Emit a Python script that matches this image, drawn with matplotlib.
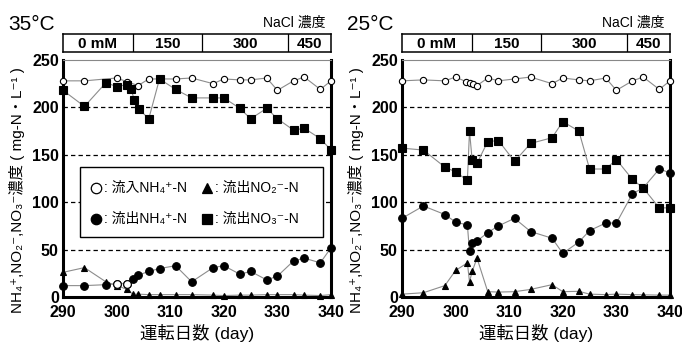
import matplotlib
matplotlib.use("Agg")
import matplotlib.pyplot as plt
from matplotlib.patches import Rectangle

plt.rcParams['font.family'] = ['Liberation Sans', 'DejaVu Sans', 'Noto Sans CJK JP']

# --- 35°C ---
dias_in_35 = [290, 294, 300, 302, 304, 306, 308, 311, 314, 318, 320, 323, 325, 328, 330, 333, 335, 338, 340]
nh4_in_35 = [228, 228, 231, 227, 223, 230, 230, 230, 231, 225, 230, 229, 229, 231, 218, 228, 232, 219, 228]

dias_out_35 = [290, 294, 298, 300, 302, 303, 304, 306, 308, 311, 314, 318, 320, 323, 325, 328, 330, 333, 335, 338, 340]
nh4_out_35 = [12, 12, 13, 14, 14, 19, 23, 27, 30, 33, 16, 31, 33, 24, 27, 18, 22, 38, 41, 36, 52]
no2_out_35 = [26, 31, 16, 12, 8, 3, 3, 2.5, 2.5, 2.5, 2.5, 2, 1.5, 2, 2, 2.5, 2.5, 2.5, 2, 1.5, 2.5]
anillos_35 = [3, 4]  # puntos que se ven huecos

dias_no3_35 = [290, 294, 298, 300, 302, 302.7, 303.3, 304.2, 306, 308, 311, 314, 318, 320, 323, 325, 328, 330, 333, 335, 338, 340]
no3_out_35 = [218, 201, 226, 222, 224, 219, 208, 198, 188, 230, 219, 210, 210, 210, 199, 188, 199, 188, 176, 178, 167, 155]

# --- 25°C ---
dias_in_25 = [290, 294, 298, 300, 302, 302.6, 303.2, 304, 306, 308, 311, 314, 318, 320, 323, 325, 328, 330, 333, 335, 338, 340]
nh4_in_25 = [228, 229, 228, 232, 227, 226, 225, 223, 231, 228, 230, 232, 225, 231, 229, 228, 231, 218, 228, 232, 219, 228]

dias_out_25 = [290, 294, 298, 300, 302.2, 302.6, 303.1, 304, 306, 308, 311, 314, 318, 320, 323, 325, 328, 330, 333, 335, 338, 340]
nh4_out_25 = [83, 96, 87, 79, 76, 48, 57, 59, 68, 75, 83, 69, 62, 46, 58, 70, 78, 78, 109, 115, 135, 131]
no2_out_25 = [3, 4.5, 12, 28, 36, 16, 27, 41, 5.6, 5.2, 5.6, 8, 13, 5.6, 6, 3, 2.5, 3, 2.5, 2.3, 2, 2]
no3_out_25 = [157, 155, 137, 132, 123, 175, 144, 141, 164, 165, 143, 162, 168, 185, 175, 135, 135, 145, 124, 115, 94, 94]

# NaCl
nacl_limites = [290, 303, 316, 332, 340]
nacl_labels = ['0 mM', '150', '300', '450']

ylabel = 'NH₄⁺,NO₂⁻,NO₃⁻濃度 ( mg-N・L⁻¹ )'

fig = plt.figure(figsize=(6.82, 3.42), dpi=100)


def serie(ax, x, y, marker, ms, mfc):
    ax.plot(x, y, color='#8c8c8c', lw=0.8, marker=marker, ms=ms, mfc=mfc,
            mec='black', mew=0.8, clip_on=False, zorder=3)


def leyenda(ax):
    ax.add_patch(Rectangle((0.063, 0.253), 0.907, 0.296, transform=ax.transAxes,
                           fc='white', ec='black', lw=1.0, zorder=5))
    items = [(0.123, 0.46, 'o', 'white', ': 流入NH₄⁺-N'),
             (0.537, 0.46, '^', 'black', ': 流出NO₂⁻-N'),
             (0.123, 0.329, 'o', 'black', ': 流出NH₄⁺-N'),
             (0.537, 0.329, 's', 'black', ': 流出NO₃⁻-N')]
    for x, y, m, fc, t in items:
        ax.plot([x], [y], transform=ax.transAxes, marker=m, ms=7.5, mfc=fc,
                mec='black', mew=0.9, ls='none', zorder=6, clip_on=False)
        ax.text(x + 0.03, y, t, transform=ax.transAxes, ha='left', va='center',
                fontsize=10, zorder=6)


def panel(left, titulo, datos, anillos=None, con_leyenda=False):
    ax = fig.add_axes([left, 0.1316, 0.393, 0.693])
    (d_in, v_in), (d_out, v_nh4, v_no2), (d_no3, v_no3) = datos
    serie(ax, d_in, v_in, 'o', 4.5, 'white')
    serie(ax, d_no3, v_no3, 's', 5.5, 'black')
    serie(ax, d_out, v_no2, '^', 4, 'black')
    serie(ax, d_out, v_nh4, 'o', 5.5, 'black')
    if anillos:
        ax.plot([d_out[i] for i in anillos], [v_nh4[i] for i in anillos], 'o',
                ms=5.5, mfc='white', mec='black', mew=0.8, zorder=4)

    ax.set_xlim(290, 340)
    ax.set_ylim(0, 250)
    ax.set_xticks(range(290, 341, 10))
    ax.set_yticks(range(0, 251, 50))
    for v in [50, 100, 150, 200]:
        ax.axhline(v, color='black', ls=(0, (3.5, 2.5)), lw=0.9, zorder=1)
    ax.tick_params(length=0, labelsize=11.5)
    ax.tick_params(axis='x', pad=6)
    ax.tick_params(axis='y', pad=3)
    for lab in ax.get_xticklabels() + ax.get_yticklabels():
        lab.set_fontweight('bold')
    for s in ['left', 'right', 'bottom']:
        ax.spines[s].set_linewidth(2.2)
    ax.spines['top'].set_color('#888888')
    ax.spines['top'].set_linewidth(0.8)
    ax.set_xlabel('運転日数 (day)', fontsize=12.5, labelpad=3)
    ax.set_ylabel(ylabel, fontsize=11)
    ax.yaxis.set_label_coords(-0.14, 0.45)

    # barra NaCl
    bx = fig.add_axes([left, 0.848, 0.393, 0.0526])
    bx.set_xlim(290, 340)
    bx.set_ylim(0, 1)
    bx.set_xticks([])
    bx.set_yticks([])
    for s in bx.spines.values():
        s.set_linewidth(1.1)
    for xv in nacl_limites[1:-1]:
        bx.axvline(xv, color='black', lw=0.9)
    for a, b, t in zip(nacl_limites[:-1], nacl_limites[1:], nacl_labels):
        bx.text((a + b) / 2, 0.45, t, ha='center', va='center', fontsize=11, fontweight='bold')
    bx.text(0.978, 1.25, 'NaCl 濃度', transform=bx.transAxes, ha='right', va='bottom', fontsize=10)
    fig.text(left - 0.08, 0.927, titulo, ha='left', va='center', fontsize=15)

    if con_leyenda:
        leyenda(ax)
    return ax


panel(0.0924, '35°C',
      [(dias_in_35, nh4_in_35), (dias_out_35, nh4_out_35, no2_out_35), (dias_no3_35, no3_out_35)],
      anillos=anillos_35, con_leyenda=True)
panel(0.5894, '25°C',
      [(dias_in_25, nh4_in_25), (dias_out_25, nh4_out_25, no2_out_25), (dias_out_25, no3_out_25)])

plt.savefig('out.png', dpi=100)
